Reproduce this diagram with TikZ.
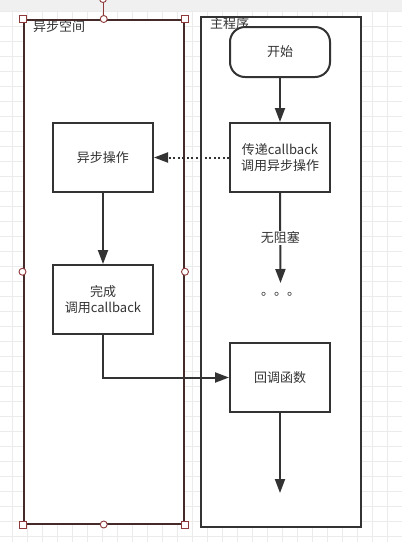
\documentclass[tikz,border=0pt]{standalone}
\usepackage{fontspec}
\setmainfont{Noto Sans CJK SC}
\usetikzlibrary{arrows.meta}
\definecolor{ln}{HTML}{333333}
\definecolor{selln}{HTML}{452A2A}
\definecolor{handle}{HTML}{8E3A3A}
\definecolor{gridc}{HTML}{EBEBEB}
\definecolor{topbar}{HTML}{F0F0F0}
\begin{document}
\begin{tikzpicture}[x=1pt,y=-1pt,
  font=\fontsize{13}{15.5}\selectfont,
  every node/.style={text=ln},
  container/.style={draw=ln, line width=2pt, fill=white, minimum width=160pt, minimum height=510pt, anchor=north west, inner sep=0pt},
  box/.style={draw=ln, line width=2pt, fill=white, minimum width=100pt, minimum height=69pt, align=center, inner sep=0pt},
  conn/.style={draw=ln, line width=2pt, -{Triangle[length=14pt,width=10pt]}},
  hsq/.style={draw=handle, fill=white, line width=0.9pt, minimum size=7pt, inner sep=0pt},
  hci/.style={draw=handle, fill=white, line width=0.9pt, circle, minimum size=7pt, inner sep=0pt}]
\useasboundingbox (0,0) rectangle (402,542);
% background
\fill[topbar] (0,0) rectangle (402,10.5);
\foreach \gx in {12,27,...,402} \draw[gridc, line width=1pt] (\gx,10.5) -- (\gx,542);
\foreach \gy in {11,26,...,542} \draw[gridc, line width=1pt] (0,\gy) -- (402,\gy);
% containers
\node[container, draw=selln, minimum width=160.5pt, minimum height=503.5pt] (space) at (22.5,19) {};
\node[container, minimum width=160pt, minimum height=510pt] (main) at (200,15.5) {};
\node[anchor=base west, inner sep=0pt] (spacelabel) at (33,31) {异步空间};
\node[anchor=base west, inner sep=0pt] (mainlabel) at (210,28.5) {主程序};
% boxes
\node[box, rounded corners=15pt, minimum height=50pt] (start) at (280,52) {开始};
\node[box] (pass) at (280,157.5) {传递callback\\调用异步操作};
\node[box] (asyncop) at (103,157.5) {异步操作};
\node[box] (done) at (103,299.5) {完成\\调用callback};
\node[box] (cb) at (280,377.5) {回调函数};
\node[inner sep=0pt, anchor=north, text height=12pt, text depth=0pt] (dots) at (280.5,283) {。。。};
\coordinate (endpt) at (280,493);
% connectors
\draw[conn] (start) -- (pass);
\draw[conn, dash pattern=on 2pt off 2.5pt] (pass) -- (asyncop);
\draw[conn] (asyncop) -- (done);
\draw[conn] (pass.south) -- node[fill=white, inner sep=1pt, pos=0.5] (noblock) {无阻塞} (dots.north);
\draw[conn] (done.south) |- (cb.west);
\draw[conn] (cb.south) -- (endpt);
% selection handles
\draw[handle, line width=0.9pt] (space.north) -- ++(0,-19);
\node[hci] (rot) at (103,-1) {};
\node[hsq] (h1) at (space.north west) {};
\node[hsq] (h2) at (space.north east) {};
\node[hsq] (h3) at (space.south west) {};
\node[hsq] (h4) at (space.south east) {};
\node[hci] (h5) at (space.north) {};
\node[hci] (h6) at (space.south) {};
\node[hci] (h7) at (space.west) {};
\node[hci] (h8) at (space.east) {};
\end{tikzpicture}
\end{document}
